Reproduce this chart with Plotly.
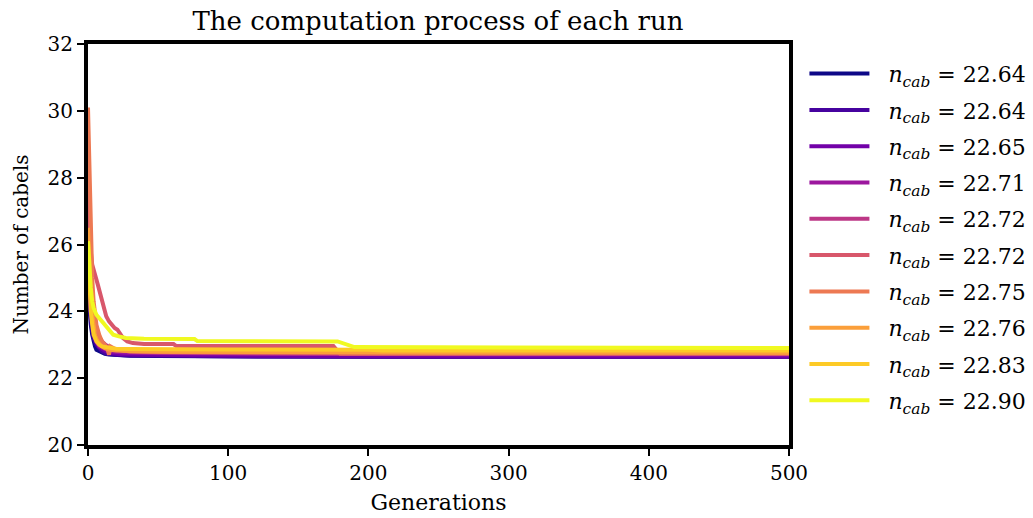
import plotly.graph_objects as go

# ---- data ----
final_values = ["22.64", "22.64", "22.65", "22.71", "22.72", "22.72", "22.75", "22.76", "22.83", "22.90"]
colors = ['#0d0887', '#46039f', '#7201a8', '#9c179e', '#bd3786',
          '#d8576b', '#ed7953', '#fb9f3a', '#fdca26', '#f0f921']

gen_1 = [0, 1, 2, 3, 4, 5, 6, 8, 10, 12, 15, 20, 30, 50, 100, 200, 300, 500]
val_1 = [24.6, 24.0, 23.6, 23.3, 23.1, 22.95, 22.85, 22.8, 22.76, 22.73, 22.71, 22.69, 22.67, 22.66, 22.65, 22.64, 22.64, 22.64]

gen_2 = [0, 1, 2, 3, 4, 6, 8, 10, 13, 16, 20, 30, 60, 120, 250, 500]
val_2 = [25.2, 24.4, 23.8, 23.4, 23.2, 23.0, 22.9, 22.8, 22.74, 22.72, 22.70, 22.68, 22.66, 22.65, 22.64, 22.64]

gen_3 = [0, 1, 2, 3, 5, 7, 9, 12, 16, 22, 35, 70, 150, 300, 500]
val_3 = [26.0, 25.0, 24.2, 23.7, 23.2, 23.0, 22.9, 22.82, 22.76, 22.72, 22.70, 22.68, 22.66, 22.65, 22.65]

gen_4 = [0, 1, 2, 4, 6, 8, 11, 14, 18, 25, 40, 80, 160, 300, 500]
val_4 = [25.5, 24.6, 24.0, 23.4, 23.1, 22.95, 22.88, 22.84, 22.8, 22.77, 22.75, 22.73, 22.72, 22.71, 22.71]

gen_5 = [0, 1, 2, 3, 5, 7, 10, 13, 17, 22, 30, 50, 100, 200, 500]
val_5 = [27.0, 25.6, 24.8, 24.2, 23.6, 23.3, 23.1, 22.98, 22.9, 22.84, 22.8, 22.77, 22.75, 22.72, 22.72]

gen_6 = [0, 1, 2, 3, 4, 5, 7, 9, 11, 13, 15, 17, 19, 21, 23, 25, 28, 32, 40, 61, 63, 175, 180, 500]
val_6 = [28.0, 26.6, 25.8, 25.4, 25.2, 25.1, 24.8, 24.45, 24.2, 23.85, 23.7, 23.6, 23.5, 23.45, 23.3, 23.2, 23.1, 23.05, 23.02, 23.02, 22.96, 22.96, 22.72, 22.72]

gen_7 = [0, 1, 2, 3, 4, 5, 6, 8, 10, 12, 14, 15, 16, 18, 20, 25, 30, 50, 100, 200, 500]
val_7 = [30.1, 28.0, 26.2, 25.0, 24.3, 23.9, 23.6, 23.3, 23.1, 23.0, 22.85, 22.7, 22.95, 22.9, 22.86, 22.83, 22.8, 22.78, 22.77, 22.76, 22.75]

gen_8 = [0, 1, 2, 3, 4, 5, 7, 9, 12, 15, 20, 30, 60, 120, 250, 500]
val_8 = [26.5, 25.2, 24.4, 23.9, 23.5, 23.3, 23.1, 22.98, 22.9, 22.86, 22.83, 22.81, 22.79, 22.78, 22.77, 22.76]

gen_9 = [0, 1, 2, 3, 4, 6, 8, 10, 13, 16, 20, 30, 60, 100, 200, 210, 500]
val_9 = [25.8, 24.6, 24.0, 23.6, 23.3, 23.1, 23.0, 22.95, 22.92, 22.9, 22.88, 22.87, 22.86, 22.86, 22.85, 22.83, 22.83]

gen_10 = [0, 1, 2, 3, 4, 6, 8, 10, 13, 16, 18, 22, 27, 40, 60, 76, 78, 178, 190, 300, 500]
val_10 = [26.1, 25.3, 24.7, 24.3, 24.1, 23.9, 23.8, 23.7, 23.54, 23.4, 23.3, 23.25, 23.2, 23.18, 23.17, 23.17, 23.11, 23.1, 22.93, 22.91, 22.90]

generations = [gen_1, gen_2, gen_3, gen_4, gen_5, gen_6, gen_7, gen_8, gen_9, gen_10]
values = [val_1, val_2, val_3, val_4, val_5, val_6, val_7, val_8, val_9, val_10]

x_ticks = [0, 100, 200, 300, 400, 500]
y_ticks = [20, 22, 24, 26, 28, 30, 32]

FONT = "DejaVu Serif"

fig = go.Figure()
for i in range(10):
    fig.add_trace(go.Scatter(
        x=generations[i], y=values[i], mode="lines",
        line=dict(color=colors[i], width=4),
        name="&nbsp;&nbsp;<i>n</i><sub><i>cab</i></sub> = " + final_values[i],
        legendgroup=str(i),
    ))

fig.update_layout(
    width=1033, height=518,
    margin=dict(l=88, r=244, t=44, b=73, autoexpand=False),
    paper_bgcolor="white", plot_bgcolor="white",
    font=dict(family=FONT, color="black", size=20),
    title=dict(text="The computation process of each run", x=0.424, xanchor="center",
               y=0.96, yanchor="middle", font=dict(size=26, family=FONT)),
    showlegend=True,
    legend=dict(x=1.022, xanchor="left", y=0.978, yanchor="top",
                font=dict(size=22, family=FONT), tracegroupgap=4.7,
                itemwidth=60, bgcolor="rgba(0,0,0,0)"),
)
fig.update_xaxes(range=[0, 500], tickvals=x_ticks, showgrid=False, zeroline=False,
                 showline=True, linecolor="black", linewidth=4, mirror=True,
                 ticks="outside", ticklen=7, tickwidth=1.5, tickcolor="black",
                 title=dict(text="Generations", font=dict(size=22), standoff=12),
                 tickfont=dict(size=20))
fig.update_yaxes(range=[20, 32], tickvals=y_ticks, showgrid=False, zeroline=False,
                 showline=True, linecolor="black", linewidth=4, mirror=True,
                 ticks="outside", ticklen=7, tickwidth=1.5, tickcolor="black",
                 title=dict(text="Number of cabels", font=dict(size=20), standoff=15),
                 tickfont=dict(size=20))

fig.write_html("out.html")
